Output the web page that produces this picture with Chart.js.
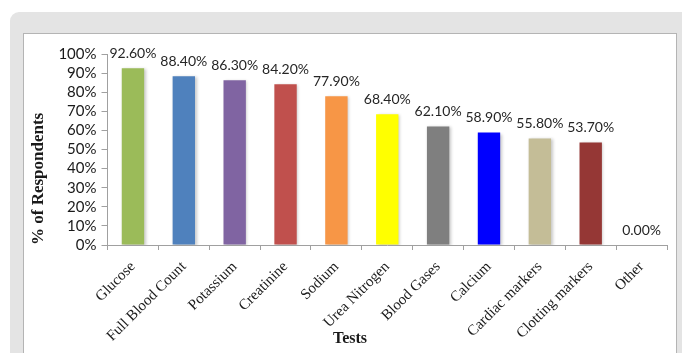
<!DOCTYPE html>
<html>
<head>
<meta charset="utf-8"/>
<title>Tests requested</title>
<script src="https://cdn.jsdelivr.net/npm/chart.js@4.4.1/dist/chart.umd.min.js"></script>
<style>
  html, body { margin: 0; padding: 0; background: #fff; overflow: hidden; }
  .frame {
    position: absolute; left: 10px; top: 12px; width: 672px; height: 341px;
    background: #e4e4e4; border-top-left-radius: 9px;
  }
  .panel {
    position: absolute; left: 13px; top: 21px; width: 652px; height: 330px;
    background: #fff; border: 1px solid #b4b4b4;
  }
  #chart { display: block; }
</style>
</head>
<body>
<div class="frame">
  <div class="panel">
    <canvas id="chart" width="652" height="320"></canvas>
  </div>
</div>
<script>
  // tests and share of respondents requesting them (%)
  const tests = ['Glucose', 'Full Blood Count', 'Potassium', 'Creatinine', 'Sodium',
                 'Urea Nitrogen', 'Blood Gases', 'Calcium', 'Cardiac markers',
                 'Clotting markers', 'Other'];
  const respondents = [92.6, 88.4, 86.3, 84.2, 77.9, 68.4, 62.1, 58.9, 55.8, 53.7, 0];
  const barColors = ['#9bbb59', '#4f81bd', '#8064a2', '#c0504d', '#f79646', '#ffff00',
                     '#7f7f7f', '#0000ff', '#c4bd97', '#953735', '#ffffff'];
  const yTicks = [0, 10, 20, 30, 40, 50, 60, 70, 80, 90, 100];

  const serif = '"Liberation Serif", "DejaVu Serif", serif';
  const sans = 'Lato, "Open Sans", sans-serif';
  const axisGray = '#a0a0a0';

  // soft drop shadow under the bars
  const barShadow = {
    id: 'barShadow',
    beforeDatasetsDraw(chart) {
      const ctx = chart.ctx;
      ctx.save();
      ctx.shadowColor = 'rgba(0,0,0,0.22)';
      ctx.shadowBlur = 3;
      ctx.shadowOffsetX = 1.5;
      ctx.shadowOffsetY = 1;
    },
    afterDatasetsDraw(chart) {
      chart.ctx.restore();
    }
  };

  // value labels above each bar
  const valueLabels = {
    id: 'valueLabels',
    afterDatasetsDraw(chart) {
      const ctx = chart.ctx;
      const meta = chart.getDatasetMeta(0);
      ctx.save();
      ctx.font = '14px ' + sans;
      ctx.fillStyle = '#262626';
      ctx.textAlign = 'center';
      ctx.textBaseline = 'bottom';
      meta.data.forEach((bar, i) => {
        ctx.fillText(respondents[i].toFixed(2) + '%', bar.x, bar.y - 8);
      });
      ctx.restore();
    }
  };

  // x axis title, centred on the whole panel
  const xTitle = {
    id: 'xTitle',
    afterDraw(chart) {
      const ctx = chart.ctx;
      ctx.save();
      ctx.font = 'bold 16px ' + serif;
      ctx.fillStyle = '#1a1a1a';
      ctx.textAlign = 'center';
      ctx.textBaseline = 'middle';
      ctx.fillText('Tests', chart.width / 2, chart.height - 15);
      ctx.restore();
    }
  };

  new Chart(document.getElementById('chart'), {
    type: 'bar',
    data: {
      labels: tests,
      datasets: [{
        data: respondents,
        backgroundColor: barColors,
        barPercentage: 0.44,
        categoryPercentage: 1.0
      }]
    },
    options: {
      responsive: false,
      animation: false,
      layout: { padding: { top: 20, right: 9, bottom: 1, left: 4 } },
      plugins: { legend: { display: false }, tooltip: { enabled: false } },
      scales: {
        x: {
          grid: { drawOnChartArea: false, tickLength: 5, color: axisGray, offset: true },
          border: { color: axisGray },
          ticks: {
            maxRotation: 45, minRotation: 45, autoSkip: false,
            font: { family: serif, size: 15 }, color: '#1a1a1a', padding: 8
          }
        },
        y: {
          min: 0, max: 100,
          afterBuildTicks: (axis) => { axis.ticks = yTicks.map(v => ({ value: v })); },
          grid: { drawOnChartArea: false, tickLength: 6, color: axisGray },
          border: { color: axisGray },
          ticks: {
            autoSkip: false,
            font: { family: sans, size: 15 }, color: '#1a1a1a', padding: 5,
            callback: (v) => v + '%'
          },
          title: {
            display: true, text: '% of Respondents', align: 'start',
            font: { family: serif, size: 17, weight: 'bold' }, color: '#1a1a1a',
            padding: { top: 0, bottom: 5 }
          }
        }
      }
    },
    plugins: [barShadow, valueLabels, xTitle]
  });
</script>
</body>
</html>
